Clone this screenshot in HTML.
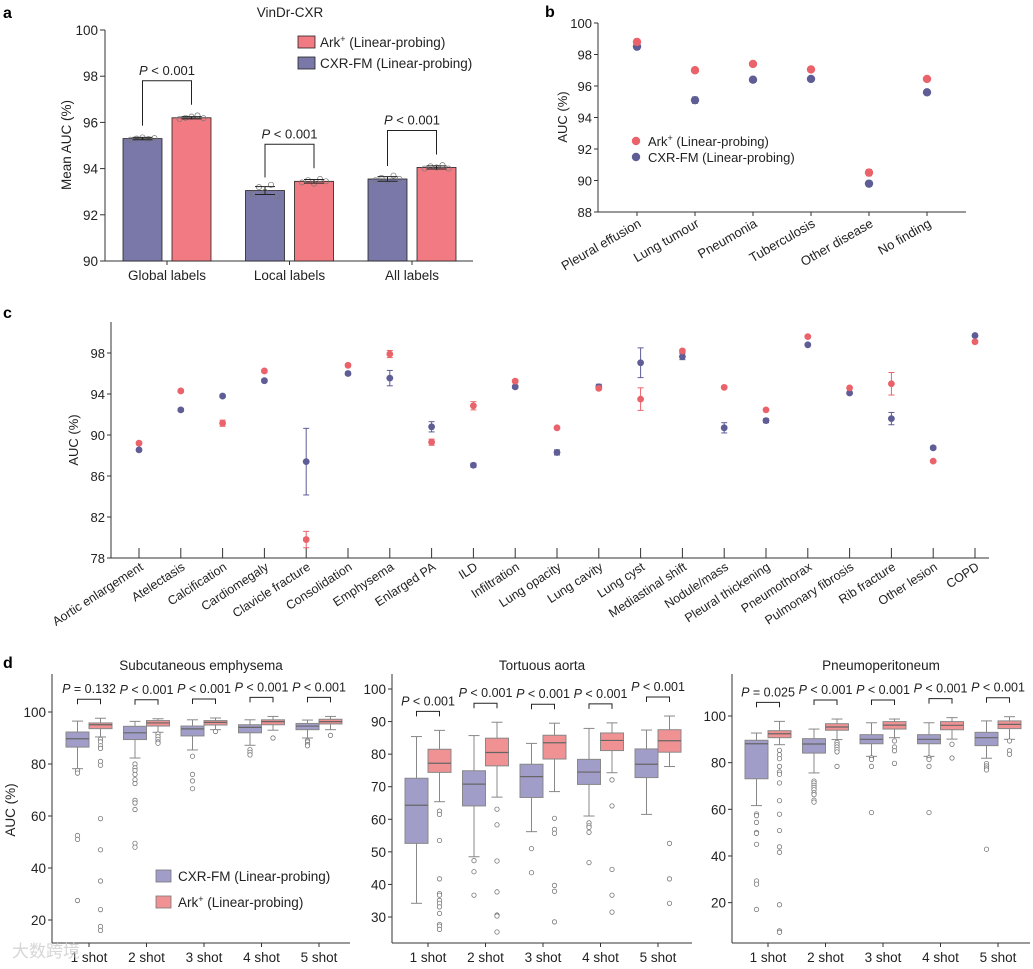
<!DOCTYPE html>
<html><head><meta charset="utf-8"><style>
html,body{margin:0;padding:0;background:#fff;}
svg{display:block;font-family:"Liberation Sans","Noto Sans CJK SC",sans-serif;}
</style></head><body>
<svg id="fig" width="1033" height="969" viewBox="0 0 1033 969" xmlns="http://www.w3.org/2000/svg"></svg>
<script>
// ---------- Panel a data ----------
const aCats = ['Global labels','Local labels','All labels'];
const aCxr = [95.3, 93.05, 93.55];
const aArk = [96.2, 93.45, 94.05];
const aCxrErr = [0.05, 0.17, 0.1];
const aArkErr = [0.05, 0.08, 0.07];
const aCxrPts = [[95.25,95.3,95.35,95.28,95.32],[92.9,93.2,93.0,93.3,92.8],[93.5,93.6,93.45,93.7,93.55]];
const aArkPts = [[96.15,96.2,96.25,96.3,96.18],[93.4,93.5,93.35,93.55,93.45],[94.0,94.1,94.05,94.15,94.0]];
const aTicks = [90,92,94,96,98,100];
const aP = ['< 0.001','< 0.001','< 0.001'];
// ---------- Panel b data ----------
const bCats = ['Pleural effusion','Lung tumour','Pneumonia','Tuberculosis','Other disease','No finding'];
const bArk = [98.8, 97.0, 97.4, 97.05, 90.5, 96.45];
const bCxr = [98.5, 95.1, 96.4, 96.45, 89.8, 95.6];
const bArkErr = [0.05,0.05,0.05,0.1,0.2,0.15];
const bCxrErr = [0.05,0.2,0.05,0.05,0.05,0.05];
const bTicks = [88,90,92,94,96,98,100];
// ---------- Panel c data ----------
const cCats = ['Aortic enlargement','Atelectasis','Calcification','Cardiomegaly','Clavicle fracture','Consolidation','Emphysema','Enlarged PA','ILD','Infiltration','Lung opacity','Lung cavity','Lung cyst','Mediastinal shift','Nodule/mass','Pleural thickening','Pneumothorax','Pulmonary fibrosis','Rib fracture','Other lesion','COPD'];
const cCxr = [88.55,92.45,93.8,95.3,87.4,96.0,95.55,90.8,87.05,94.7,88.3,94.7,97.05,97.65,90.7,91.4,98.8,94.1,91.6,88.75,99.7];
const cCxrErr = [0.15,0.15,0.15,0.15,3.25,0.15,0.75,0.5,0.2,0.15,0.25,0.25,1.45,0.3,0.5,0.2,0.1,0.1,0.6,0.15,0.1];
const cArk = [89.2,94.3,91.15,96.25,79.8,96.8,97.9,89.3,92.85,95.25,90.7,94.55,93.5,98.2,94.65,92.45,99.6,94.6,95.0,87.45,99.1];
const cArkErr = [0.15,0.15,0.3,0.15,0.8,0.15,0.35,0.3,0.4,0.15,0.1,0.15,1.1,0.15,0.1,0.1,0.1,0.1,1.1,0.1,0.15];
const cTicks = [78,82,86,90,94,98];
// ---------- Panel d data ----------
const shots = ['1 shot','2 shot','3 shot','4 shot','5 shot'];
const d1Title = 'Subcutaneous emphysema';
const d1P = ['= 0.132','< 0.001','< 0.001','< 0.001','< 0.001'];
const d1CxrHi=[96.5,96.4,97,97,96.9], d1CxrQ3=[92.3,94.5,94.6,95.1,95.6], d1CxrMed=[89.7,92,93.5,94.1,94.6], d1CxrQ1=[86.5,89.4,90.8,92,93.2], d1CxrLo=[78.2,82.3,85.4,87.2,90];
const d1CxrOut=[[77.5,76.5,52.5,51,27.5],[80,78.5,77.5,76,74,72.5,66,65,62.5,49.5,48],[83,76,73.5,70.5],[85.5,84.5,83.5],[89,88.5,87.5,87]];
const d1ArkHi=[97.6,97.4,97.7,98.3,98.3], d1ArkQ3=[95.8,96.7,96.7,97,97.2], d1ArkMed=[95.1,95.8,96,96.3,96.3], d1ArkQ1=[93.6,94.6,95,95.1,95.4], d1ArkLo=[90.4,92.2,93.2,93,93.2];
const d1ArkOut=[[89.5,88.5,87,86,81,79.5,59,47,35,24,17.5,16],[91.5,90.5,89.5,88.5,88],[92.5],[90],[91]];
const d1Ticks=[20,40,60,80,100];

const d2Title = 'Tortuous aorta';
const d2P = ['< 0.001','< 0.001','< 0.001','< 0.001','< 0.001'];
const d2CxrHi=[85.4,85.7,83.3,87.9,87.4], d2CxrQ3=[72.6,74.9,76.9,78.4,81.6], d2CxrMed=[64.3,70.8,73.1,74.5,76.9], d2CxrQ1=[52.6,64.1,66.7,70.7,72.8], d2CxrLo=[34.2,48.5,56.2,61,61.5];
const d2CxrOut=[[],[47.3,43.9,36.7],[51,43.6],[58.9,58,57.5,56,46.7],[]];
const d2ArkHi=[87.3,89.8,89.5,89.6,91.7], d2ArkQ3=[81.5,84.9,85.8,86.5,87.5], d2ArkMed=[77.2,80.5,83.5,84.2,84.1], d2ArkQ1=[74.4,76.4,78.5,81.1,80.6], d2ArkLo=[65.4,66.8,68.5,74.3,76.2];
const d2ArkOut=[[62.5,61.5,53.5,41.7,37.2,36.7,35.1,34.2,33.1,31.1,27.7,27.2,26.2],[63.1,58.3,47.2,37.7,30.6,30.3,25.4],[60.3,56.9,55.7,39.7,37.9,28.5],[72.1,64.1,44.6,36.7,31.5],[52.6,41.7,34.2]];
const d2Ticks=[30,40,50,60,70,80,90,100];

const d3Title = 'Pneumoperitoneum';
const d3P = ['= 0.025','< 0.001','< 0.001','< 0.001','< 0.001'];
const d3CxrHi=[92.7,94.4,97.1,97.1,97.9], d3CxrQ3=[89.6,90.3,92,92,93], d3CxrMed=[88.1,88,90,90,90.7], d3CxrQ1=[73.1,84.1,88.1,88.1,87.3], d3CxrLo=[61.6,75.6,82.7,82.7,81.9];
const d3CxrOut=[[58,57.3,54.4,50.1,49.7,45,29.3,27.9,17.1],[72.1,71.3,70.3,69.4,68.4,67.1,66.3,63.9,63.1],[82.1,81.4,78.4,58.6],[82.1,81.4,78.4,58.6],[79.6,78.6,77.7,76.9,42.9]];
const d3ArkHi=[97.7,98.7,98.7,99.3,99.7], d3ArkQ3=[93.7,96.7,97.6,97.6,97.9], d3ArkMed=[92.4,95.3,96.1,96,96.4], d3ArkQ1=[90.7,93.9,94.4,94.1,94.6], d3ArkLo=[87.7,89.9,90.7,90.1,90];
const d3ArkOut=[[85.3,83.4,81.7,78.4,76,75,71.3,63.7,57.9,50.9,43.9,41.6,19.1,7.9,7.3],[88.7,87.7,86.7,85.6,84.6,78.4],[89.3,86.7,85.1,79.7],[87.9,82],[89.3,85.1,83.6]];
const d3Ticks=[20,40,60,80,100];

// ---------- helpers ----------
const NS='http://www.w3.org/2000/svg';
const svg=document.getElementById('fig');
function mk(tag,attrs,parent){const e=document.createElementNS(NS,tag);for(const k in attrs)e.setAttribute(k,attrs[k]);(parent||svg).appendChild(e);return e;}
function txt(x,y,s,attrs,parent){const a=Object.assign({x:x,y:y,'font-size':13,fill:'#222'},attrs||{});const e=mk('text',a,parent);e.textContent=s;return e;}
function line(x1,y1,x2,y2,stroke,w,parent){return mk('line',{x1:x1,y1:y1,x2:x2,y2:y2,stroke:stroke||'#333','stroke-width':w||1},parent);}
function pText(x,y,s,parent,fs){const e=mk('text',{x:x,y:y,'font-size':fs||13,fill:'#222','text-anchor':'middle'},parent);const t1=mk('tspan',{'font-style':'italic'},e);t1.textContent='P';const t2=mk('tspan',{},e);t2.textContent=' '+s;return e;}
const CXR_BAR='#7a78a8', ARK_BAR='#f27b83', CXR_DOT='#5e5d96', ARK_DOT='#ea636b', CXR_BOX='#a19dc9', ARK_BOX='#f09293';

let L;
L=txt(3,18,'a',{'font-weight':'bold','font-size':16,fill:'#000'});

L=txt(545,17,'b',{'font-weight':'bold','font-size':16,fill:'#000'});

L=txt(3,318,'c',{'font-weight':'bold','font-size':16,fill:'#000'});

L=txt(3,668,'d',{'font-weight':'bold','font-size':16,fill:'#000'});


// ================= Panel a =================
(function(){
  const g=mk('g',{});
  
  const ya=v=>261-(v-90)*23.1;
  const centers=[167,289.5,412];
  let t=txt(290,17,'VinDr-CXR',{'text-anchor':'middle','font-size':13.5},g);
  
  let ax=line(105,30,105,261,'#333',1,g);
  
  ax=line(105,261,473,261,'#333',1,g);
  
  aTicks.forEach(v=>{line(100,ya(v),105,ya(v),'#333',1,g);const l=txt(98,ya(v)+5,String(v),{'text-anchor':'end','font-size':13.5},g);});
  t=txt(0,0,'Mean AUC (%)',{'text-anchor':'middle','font-size':13.5,transform:'translate(71,145) rotate(-90)'},g);
  
  const jit=[-12,-6,0,6,12];
  aCats.forEach((c,i)=>{
    const cx=centers[i];
    line(cx,261,cx,265,'#333',1,g);
    const lb=txt(cx,280,c,{'text-anchor':'middle','font-size':13.5},g);
    
    [[aCxr,aCxrErr,aCxrPts,CXR_BAR,cx-24.5,'cxr'],[aArk,aArkErr,aArkPts,ARK_BAR,cx+24.5,'ark']].forEach(s=>{
      const v=s[0][i],bx=s[4];
      const r=mk('rect',{x:bx-19.5,y:ya(v),width:39,height:261-ya(v),fill:s[3],stroke:'#222','stroke-width':0.8},g);
      
      s[2][i].forEach((p,k)=>{mk('circle',{cx:bx+jit[k],cy:ya(p),r:2.6,fill:'none',stroke:'#777','stroke-width':0.7},g);});
      const e=s[1][i];
      line(bx,ya(v+e),bx,ya(v-e),'#222',1,g);
      line(bx-10,ya(v+e),bx+10,ya(v+e),'#222',1,g);
      line(bx-10,ya(v-e),bx+10,ya(v-e),'#222',1,g);
    });
    const top=ya(Math.max(aCxr[i],aArk[i]))-37;
    const br=mk('path',{d:`M${cx-24.5},${ya(aCxr[i])-13}V${top}H${cx+24.5}V${ya(aArk[i])-13}`,fill:'none',stroke:'#222','stroke-width':1},g);
    
    const p=pText(cx,top-6,aP[i],g);
    
  });
  const lg=mk('g',{},g);
  
  mk('rect',{x:298,y:36,width:17,height:12,fill:ARK_BAR,stroke:'#222','stroke-width':0.8},lg);
  let tt=txt(320,47,'',{'font-size':13.5},lg);tt.innerHTML='Ark<tspan font-size="9" dy="-5">+</tspan><tspan dy="5"> (Linear-probing)</tspan>';
  
  mk('rect',{x:298,y:57,width:17,height:12,fill:CXR_BAR,stroke:'#222','stroke-width':0.8},lg);
  tt=txt(320,68,'CXR-FM (Linear-probing)',{'font-size':13.5},lg);
  
})();

// ================= Panel b =================
(function(){
  const g=mk('g',{});
  
  const yb=v=>212-(v-88)*15.75, xb=i=>637+58*i;
  let ax=line(598,23,598,212,'#333',1,g);
  
  ax=line(598,212,966,212,'#333',1,g);
  
  bTicks.forEach(v=>{line(594,yb(v),598,yb(v),'#333',1,g);const l=txt(592,yb(v)+5,String(v),{'text-anchor':'end','font-size':13},g);});
  let t=txt(0,0,'AUC (%)',{'text-anchor':'middle','font-size':13,transform:'translate(567,117) rotate(-90)'},g);
  
  bCats.forEach((c,i)=>{
    const x=xb(i);
    line(x,212,x,216,'#333',1,g);
    const l=txt(0,0,c,{'text-anchor':'end','font-size':13,transform:`translate(${x+5},${226}) rotate(-30)`},g);
    
    [[bCxr,bCxrErr,CXR_DOT,'cxr'],[bArk,bArkErr,ARK_DOT,'ark']].forEach(s=>{
      const v=s[0][i],e=s[1][i];
      if(e>0.08){line(x,yb(v+e),x,yb(v-e),s[2],1,g);line(x-3,yb(v+e),x+3,yb(v+e),s[2],1,g);line(x-3,yb(v-e),x+3,yb(v-e),s[2],1,g);}
      const d=mk('circle',{cx:x,cy:yb(v),r:4.2,fill:s[2]},g);
      
    });
  });
  const lg=mk('g',{},g);
  
  mk('circle',{cx:636,cy:141,r:4.2,fill:ARK_DOT},lg);
  let tt=txt(648,146,'',{'font-size':13},lg);tt.innerHTML='Ark<tspan font-size="9" dy="-5">+</tspan><tspan dy="5"> (Linear-probing)</tspan>';
  
  mk('circle',{cx:636,cy:157,r:4.2,fill:CXR_DOT},lg);
  tt=txt(648,162,'CXR-FM (Linear-probing)',{'font-size':13},lg);
  
})();

// ================= Panel c =================
(function(){
  const g=mk('g',{});
  
  const yc=v=>558-(v-78)*10.25, xc=i=>139+41.8*i;
  let ax=line(111,322,111,558,'#333',1,g);
  
  ax=line(111,558,989,558,'#333',1,g);
  
  cTicks.forEach(v=>{line(107,yc(v),111,yc(v),'#333',1,g);const l=txt(105,yc(v)+5,String(v),{'text-anchor':'end','font-size':13},g);});
  let t=txt(0,0,'AUC (%)',{'text-anchor':'middle','font-size':13,transform:'translate(78,440) rotate(-90)'},g);
  
  cCats.forEach((c,i)=>{
    const x=xc(i);
    line(x,548,x,558,'#333',1,g);
    const l=txt(0,0,c,{'text-anchor':'end','font-size':12.5,transform:`translate(${x+5},${569}) rotate(-33)`},g);
    
    [[cCxr,cCxrErr,CXR_DOT,'cxr'],[cArk,cArkErr,ARK_DOT,'ark']].forEach(s=>{
      const v=s[0][i],e=s[1][i];
      line(x,yc(v+e),x,yc(v-e),s[2],1,g);line(x-3,yc(v+e),x+3,yc(v+e),s[2],1,g);line(x-3,yc(v-e),x+3,yc(v-e),s[2],1,g);
      const d=mk('circle',{cx:x,cy:yc(v),r:3.4,fill:s[2]},g);
      
    });
  });
})();

// ================= Panel d =================
function drawBoxes(cfg){
  const g=mk('g',{});
  
  const y=cfg.y, xt=i=>cfg.x0tick+57.5*i;
  let t=txt((cfg.x0+cfg.x1)/2,670,cfg.title,{'text-anchor':'middle','font-size':13.5},g);
  
  let ax=line(cfg.x0,674,cfg.x0,943,'#333',1,g);
  
  ax=line(cfg.x0,943,cfg.x1,943,'#333',1,g);
  
  cfg.ticks.forEach(v=>{line(cfg.x0-4,y(v),cfg.x0,y(v),'#333',1,g);const l=txt(cfg.x0-6,y(v)+5,String(v),{'text-anchor':'end','font-size':13.5},g);});
  shots.forEach((s,i)=>{
    const x=xt(i);
    line(x,943,x,947,'#333',1,g);
    const l=txt(x,962,s,{'text-anchor':'middle','font-size':13.5},g);
    
    cfg.series.forEach(sr=>{
      const cx=x+sr.off, hw=11.5;
      const bg=mk('g',{},g);
      
      line(cx,y(sr.hi[i]),cx,y(sr.q3[i]),'#888',1,bg);
      line(cx,y(sr.q1[i]),cx,y(sr.lo[i]),'#888',1,bg);
      line(cx-5.5,y(sr.hi[i]),cx+5.5,y(sr.hi[i]),'#888',1,bg);
      line(cx-5.5,y(sr.lo[i]),cx+5.5,y(sr.lo[i]),'#888',1,bg);
      mk('rect',{x:cx-hw,y:y(sr.q3[i]),width:hw*2,height:Math.max(1,y(sr.q1[i])-y(sr.q3[i])),fill:sr.color,stroke:'#888','stroke-width':1},bg);
      line(cx-hw,y(sr.med[i]),cx+hw,y(sr.med[i]),'#666',1.2,bg);
      sr.out[i].forEach(o=>{mk('circle',{cx:cx,cy:y(o),r:2.2,fill:'#fff',stroke:'#777','stroke-width':0.8},bg);});
    });
    const a=cfg.series[0],b=cfg.series[1];
    const bot=y(Math.max(a.hi[i],b.hi[i]))-14;
    const br=mk('path',{d:`M${x+a.off},${bot}V${bot-5}H${x+b.off}V${bot}`,fill:'none',stroke:'#222','stroke-width':1},g);
    
    const p=pText(x,bot-11,cfg.p[i],g,12.5);
    
  });
}
drawBoxes({name:'subplot-subcutaneous-emphysema',title:d1Title,x0:52,x1:350,x0tick:89,y:v=>712+(100-v)*2.6,ticks:d1Ticks,p:d1P,
  series:[{key:'cxr',off:-11.5,color:CXR_BOX,hi:d1CxrHi,q3:d1CxrQ3,med:d1CxrMed,q1:d1CxrQ1,lo:d1CxrLo,out:d1CxrOut},
          {key:'ark',off:11.5,color:ARK_BOX,hi:d1ArkHi,q3:d1ArkQ3,med:d1ArkMed,q1:d1ArkQ1,lo:d1ArkLo,out:d1ArkOut}]});
drawBoxes({name:'subplot-tortuous-aorta',title:d2Title,x0:392,x1:692,x0tick:428,y:v=>689+(100-v)*3.257,ticks:d2Ticks,p:d2P,
  series:[{key:'cxr',off:-11.5,color:CXR_BOX,hi:d2CxrHi,q3:d2CxrQ3,med:d2CxrMed,q1:d2CxrQ1,lo:d2CxrLo,out:d2CxrOut},
          {key:'ark',off:11.5,color:ARK_BOX,hi:d2ArkHi,q3:d2ArkQ3,med:d2ArkMed,q1:d2ArkQ1,lo:d2ArkLo,out:d2ArkOut}]});
drawBoxes({name:'subplot-pneumoperitoneum',title:d3Title,x0:732,x1:1030,x0tick:768,y:v=>716+(100-v)*2.333,ticks:d3Ticks,p:d3P,
  series:[{key:'cxr',off:-11.5,color:CXR_BOX,hi:d3CxrHi,q3:d3CxrQ3,med:d3CxrMed,q1:d3CxrQ1,lo:d3CxrLo,out:d3CxrOut},
          {key:'ark',off:11.5,color:ARK_BOX,hi:d3ArkHi,q3:d3ArkQ3,med:d3ArkMed,q1:d3ArkQ1,lo:d3ArkLo,out:d3ArkOut}]});
(function(){
  let t=txt(0,0,'AUC (%)',{'text-anchor':'middle','font-size':13.5,transform:'translate(15,810) rotate(-90)'});
  
  const lg=mk('g',{});
  
  mk('rect',{x:156,y:870,width:15,height:12,fill:CXR_BOX,stroke:'#777','stroke-width':0.8},lg);
  let tt=txt(178,881,'CXR-FM (Linear-probing)',{'font-size':13.5},lg);
  
  mk('rect',{x:156,y:896,width:15,height:12,fill:ARK_BOX,stroke:'#777','stroke-width':0.8},lg);
  tt=txt(178,907,'',{'font-size':13.5},lg);tt.innerHTML='Ark<tspan font-size="9" dy="-5">+</tspan><tspan dy="5"> (Linear-probing)</tspan>';
  
  const w=txt(12,957,'大数跨境',{'font-size':17,fill:'#ccc','fill-opacity':0.8});
  
})();
</script>
</body></html>
